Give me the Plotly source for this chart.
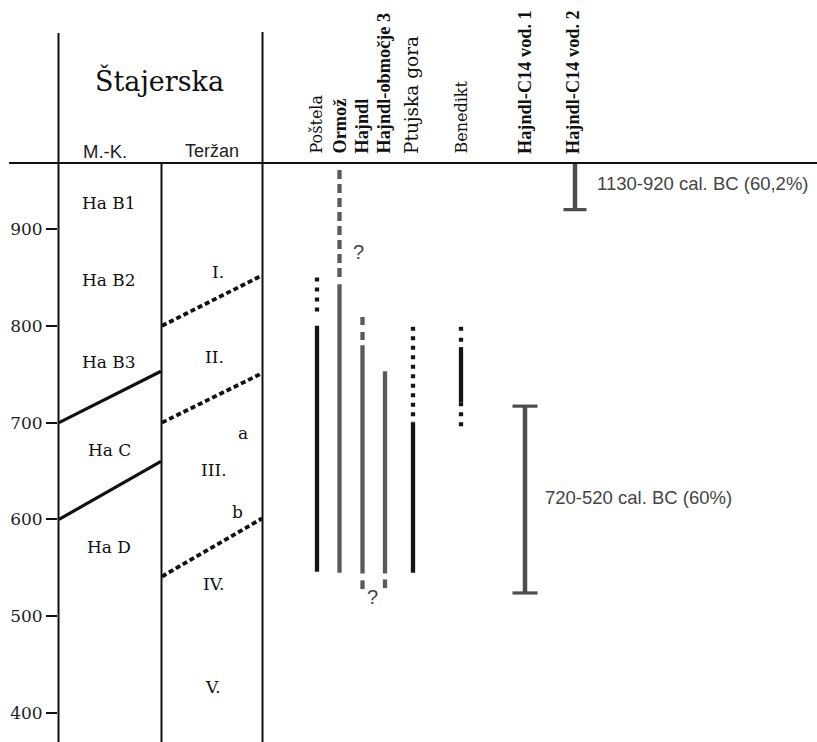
import plotly.graph_objects as go

# ---------------- data ----------------
y_ticks = [400, 500, 600, 700, 800, 900]

mk_periods = ["Ha B1", "Ha B2", "Ha B3", "Ha C", "Ha D"]
mk_period_years = [927, 847, 763, 672, 572]
mk_bound_left = [700, 600]
mk_bound_right = [753, 660]

terzan_phases = ["I.", "II.", "a", "III.", "b", "IV.", "V."]
terzan_phase_years = [856, 768, 689, 651, 608, 533, 427]
terzan_bound_left = [800, 700, 541]
terzan_bound_right = [852, 751, 601]

sites = ["Poštela", "Ormož", "Hajndl", "Hajndl-območje 3", "Ptujska gora", "Benedikt"]
solid_top = [800, 843, 780, 753, 700, 778]
solid_bottom = [546, 545, 544, 544, 545, 721]
upper_uncertain_top = [850, 961, 809, None, 799, 799]
upper_uncertain_bottom = [809, 849, 785, None, 700, 783]
lower_uncertain_top = [None, None, 537, 538, None, 721]
lower_uncertain_bottom = [None, None, 528, 529, None, 692]

c14_labels = ["Hajndl-C14 vod. 1", "Hajndl-C14 vod. 2"]
c14_top = [717, 1130]
c14_bottom = [524, 920]
c14_texts = ["720-520 cal. BC (60%)", "1130-920 cal. BC (60,2%)"]

# ---------------- layout helpers ----------------
W, H = 817, 742
Y_TOP, Y_BOT = 1136.57, 370.04
HEADER_YEAR = 968.2


def yr(px):
    return Y_TOP - px / H * (Y_TOP - Y_BOT)


def px_paper(x):
    return x / W


def py_paper(y):
    return 1 - y / H


site_x = [317, 339.5, 362.5, 385, 413, 461]
site_color = ["#151515", "#5a5a5a", "#5a5a5a", "#5a5a5a", "#151515", "#151515"]
upper_dash = ["4px,6px", "9px,5px", "8px,7px", None, "4px,5.5px", "4px,7px"]
lower_dash = [None, None, "9px,2px", "9px,2px", None, "4px,6px"]
c14_x = [525, 575]
c14_cap = [12.5, 11.5]

serif = "DejaVu Serif"
times = "Liberation Serif"
sans = "Liberation Sans"

fig = go.Figure()


def seg(x0, y0, x1, y1, color, width, dash="solid"):
    fig.add_trace(go.Scatter(x=[x0, x1], y=[y0, y1], mode="lines",
                             line=dict(color=color, width=width, dash=dash),
                             hoverinfo="skip", showlegend=False))


# M.-K. boundaries (solid)
for l, r in zip(mk_bound_left, mk_bound_right):
    seg(59, l, 161, r, "#111111", 3.2)

# Teržan boundaries (dashed)
for l, r in zip(terzan_bound_left, terzan_bound_right):
    seg(162, l, 262, r, "#111111", 3.8, "5px,3px")

# site bars
for i, name in enumerate(sites):
    x = site_x[i]
    c = site_color[i]
    if upper_uncertain_top[i] is not None:
        seg(x, upper_uncertain_top[i], x, upper_uncertain_bottom[i], c, 4.3, upper_dash[i])
    seg(x, solid_top[i], x, solid_bottom[i], c, 4.3)
    if lower_uncertain_top[i] is not None:
        seg(x, lower_uncertain_top[i], x, lower_uncertain_bottom[i], c, 4.3, lower_dash[i])

# C14 ranges
for i in range(len(c14_labels)):
    x = c14_x[i]
    top = min(c14_top[i], HEADER_YEAR)
    seg(x, top, x, c14_bottom[i], "#4d4d4d", 4.5)
    seg(x - c14_cap[i], c14_bottom[i], x + c14_cap[i], c14_bottom[i], "#4d4d4d", 3.2)
    if c14_top[i] <= HEADER_YEAR:
        seg(x - c14_cap[i], c14_top[i], x + c14_cap[i], c14_top[i], "#4d4d4d", 3.2)

# ---------------- structural lines ----------------
shapes = []
for x, ytop in [(58.5, 33), (262.5, 32), (161.5, 163)]:
    shapes.append(dict(type="line", xref="paper", yref="paper",
                       x0=px_paper(x), x1=px_paper(x), y0=py_paper(ytop), y1=0,
                       line=dict(color="#111111", width=2)))
shapes.append(dict(type="line", xref="paper", yref="paper",
                   x0=px_paper(9), x1=1, y0=py_paper(163), y1=py_paper(163),
                   line=dict(color="#111111", width=2)))

# ---------------- annotations ----------------
ann = []


def text(x, y, s, font, size, color="#111111", **kw):
    d = dict(x=x, y=y, xref="x", yref="y", text=s, showarrow=False,
             font=dict(family=font, size=size, color=color))
    d.update(kw)
    ann.append(d)


text(159, yr(80), "Štajerska", serif, 27)
text(105, yr(151), "M.-K.", sans, 18.5, "#222222")
text(212, yr(151), "Teržan", sans, 18, "#222222")

for name, y in zip(mk_periods, mk_period_years):
    text(109, y, name, serif, 17)
terzan_x = [218, 214, 243, 214, 237, 213, 213]
for name, y, x in zip(terzan_phases, terzan_phase_years, terzan_x):
    text(x, y, name, serif, 17)

header_font = [(serif, 16, False), (times, 18.3, True), (times, 18.3, True),
               (times, 18.3, True), (serif, 18.5, False), (serif, 16, False)]
header_x = [316, 339, 361, 383, 411, 461]
for name, x, (f, s, b) in zip(sites, header_x, header_font):
    text(x, yr(156), f"<b>{name}</b>" if b else name, f, s, textangle=-90,
         xanchor="center", yanchor="bottom")
for name, x in zip(c14_labels, [525, 573]):
    text(x, yr(156), f"<b>{name}</b>", times, 18.3, textangle=-90,
         xanchor="center", yanchor="bottom")

text(595, yr(183), c14_texts[1], sans, 18.5, "#444444", xanchor="left")
text(543, yr(497), c14_texts[0], sans, 18.5, "#444444", xanchor="left")
text(358, yr(252), "?", sans, 20, "#444444")
text(372, yr(597), "?", sans, 20, "#444444")

fig.update_layout(
    width=W, height=H,
    margin=dict(l=0, r=0, t=0, b=0),
    paper_bgcolor="white", plot_bgcolor="white",
    shapes=shapes, annotations=ann,
    xaxis=dict(domain=[58 / W, 1], range=[58, 817], visible=False, fixedrange=True),
    yaxis=dict(range=[Y_BOT, Y_TOP], tickvals=y_ticks, ticktext=[str(t) for t in y_ticks],
               ticks="outside", ticklen=11, tickwidth=2, tickcolor="#111111",
               tickfont=dict(family=serif, size=17, color="#222222"),
               showgrid=False, zeroline=False, showline=False, automargin=False,
               fixedrange=True),
    showlegend=False,
)

fig.write_html("out.html", config={"displayModeBar": False},
               post_script="document.body.style.margin='0';document.body.style.padding='0';")
